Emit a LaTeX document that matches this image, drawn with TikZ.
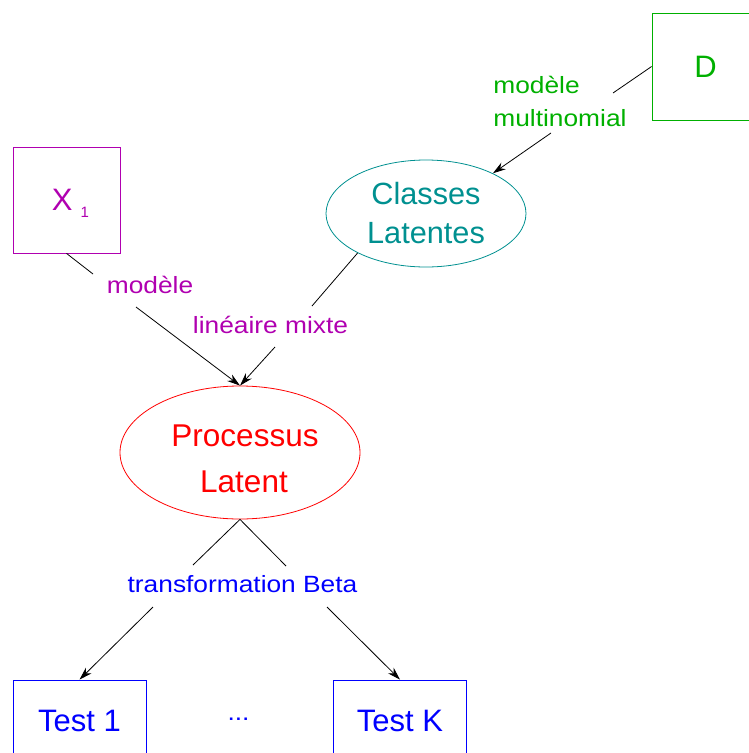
\documentclass[tikz,border=0pt]{standalone}
\usepackage{fontspec}
\setmainfont{Liberation Sans}
\newfontfamily\lblfont[FakeStretch=1.12]{Liberation Sans}
\usetikzlibrary{shapes.geometric,arrows.meta}
\definecolor{xmag}{RGB}{176,0,176}
\definecolor{xgreen}{RGB}{0,176,0}
\definecolor{xcyan}{RGB}{0,144,144}
\begin{document}
\begin{tikzpicture}[x=1pt,y=-1pt,line width=0.8pt,
box/.style = {draw, inner sep=0pt, minimum width=107pt, minimum height=107pt, font=\fontsize{31}{39}\selectfont},
oval/.style = {draw, ellipse, inner sep=0pt, align=center},
test/.style = {draw=blue, text=blue, inner sep=0pt, minimum width=133pt, minimum height=82pt, font=\fontsize{31}{39}\selectfont},
lbl/.style = {inner sep=0pt, anchor=base, font=\lblfont\fontsize{23.5}{33.4}\selectfont},
arr/.style = {-{Stealth[length=13pt,width=8pt]}}]
\useasboundingbox (0,0) rectangle (749,753);
\node[box] (1) [draw=xmag, text=xmag, minimum height=106pt, text depth=0pt] at (66.5,200) {\hspace*{8pt}X\hspace{8pt}\raisebox{-7pt}{\fontsize{15}{15}\selectfont 1}};
\node[box] (2) [draw=xgreen, text=xgreen] at (705.5,66.5) {D};
\node[oval] (3) [draw=xcyan, text=xcyan, minimum width=200pt, minimum height=107pt, font=\fontsize{30.7}{39}\selectfont] at (426,213.5) {Classes\\Latentes};
\node[oval] (4) [draw=red, text=red, minimum width=240pt, minimum height=133pt, font=\fontsize{31.5}{46}\selectfont] at (240,452.5) {\hspace*{10pt}\rule{0pt}{35pt}Processus\\\hspace*{8pt}Latent};
\node[test] (5) at (79.5,721) {Test 1};
\node[test] (6) at (400,721) {Test K};
\node[lbl, text=blue] (7) at (238.5,720) {...};
\node[lbl, text=xmag] (8) at (150,293.3) {modèle};
\node[lbl, text=xmag] (9) at (270.5,333.3) {linéaire mixte};
\node[lbl, text=xgreen, align=left, anchor=base west] (10) at (493,126.7) {modèle\\multinomial};
\node[lbl, text=blue] (11) at (242.5,592.7) {transformation Beta};
\coordinate (1a) at (93,274);
\coordinate (1b) at (136,307);
\coordinate (2a) at (613,93);
\coordinate (2b) at (551,133);
\coordinate (3a) at (312,306);
\coordinate (3b) at (275,347);
\coordinate (4a) at (193,565);
\coordinate (4b) at (153,607);
\coordinate (4c) at (286,566);
\coordinate (4d) at (327,607);
\draw (1.south) -- (1a);
\draw[arr] (1b) -- (4.north);
\draw (2.west) -- (2a);
\draw[arr] (2b) -- (3.31);
\draw (3.210) -- (3a);
\draw[arr] (3b) -- (4.north);
\draw (4.south) -- (4a);
\draw[arr] (4b) -- (5.north);
\draw (4.south) -- (4c);
\draw[arr] (4d) -- (6.north);
\end{tikzpicture}
\end{document}
